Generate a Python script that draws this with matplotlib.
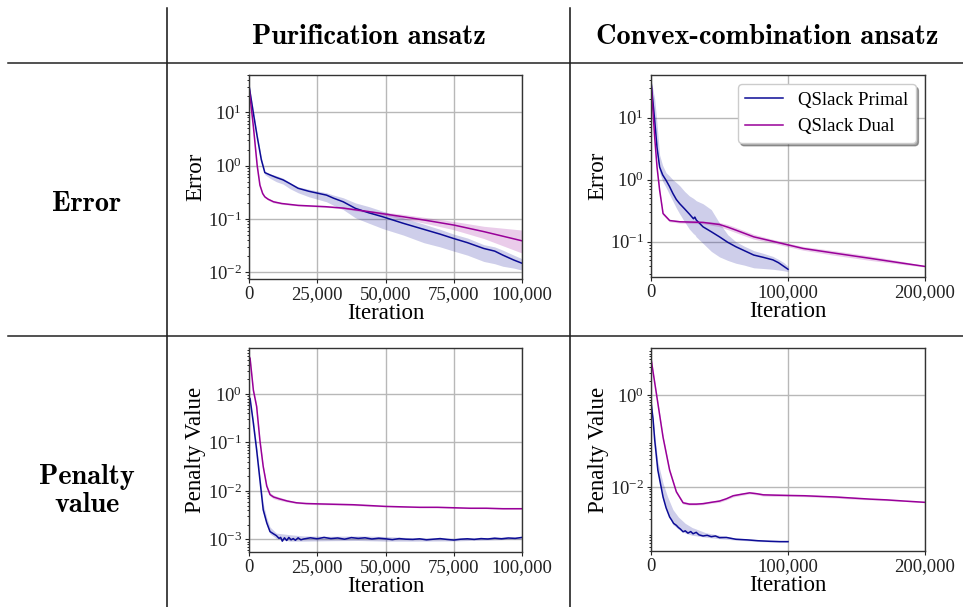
import matplotlib
matplotlib.use("Agg")
import matplotlib.pyplot as plt
from matplotlib.lines import Line2D
from matplotlib.ticker import FuncFormatter
import numpy as np

plt.rcParams['font.family'] = ['Liberation Serif', 'DejaVu Serif']
plt.rcParams['mathtext.fontset'] = 'stix'

PRIMAL_C = '#0c0c96'
DUAL_C = '#990099'

col_titles = ['Purification ansatz', 'Convex-combination ansatz']
row_titles = ['Error', 'Penalty\nvalue']
ylabels = ['Error', 'Penalty Value']
legend_labels = ['QSlack Primal', 'QSlack Dual']

# ---- purification ansatz, error ----
pe_x_primal = [0, 1600, 3000, 4500, 5800, 7700, 10000, 12500, 15000, 18000, 22000, 28400, 31000, 34500, 39000, 44000, 49000, 56500, 64000, 70000, 75000, 80000, 86000, 90000, 93000, 97000, 100000]
pe_primal = [32, 9.6, 3.5, 1.3, 0.74, 0.67, 0.6, 0.54, 0.46, 0.376, 0.33, 0.28, 0.245, 0.21, 0.158, 0.13, 0.11, 0.083, 0.064, 0.052, 0.043, 0.036, 0.028, 0.025, 0.021, 0.017, 0.0148]
pe_primal_lo = [30, 8.5, 3.0, 1.15, 0.68, 0.58, 0.5, 0.45, 0.37, 0.31, 0.26, 0.21, 0.18, 0.15, 0.105, 0.083, 0.066, 0.05, 0.036, 0.03, 0.025, 0.021, 0.016, 0.0145, 0.013, 0.012, 0.011]
pe_primal_hi = [34, 11, 4.0, 1.45, 0.78, 0.70, 0.65, 0.58, 0.48, 0.40, 0.36, 0.31, 0.28, 0.25, 0.20, 0.17, 0.14, 0.105, 0.08, 0.064, 0.052, 0.044, 0.033, 0.03, 0.026, 0.021, 0.018]
pe_x_dual = [0, 1600, 3000, 4000, 5000, 5800, 7000, 9000, 12000, 18000, 28000, 34500, 44000, 56500, 65000, 75000, 86000, 100000]
pe_dual = [30, 5.4, 1.0, 0.43, 0.3, 0.26, 0.235, 0.21, 0.195, 0.18, 0.17, 0.16, 0.137, 0.11, 0.094, 0.077, 0.058, 0.039]
pe_dual_lo = [28, 5.0, 0.9, 0.40, 0.28, 0.25, 0.225, 0.20, 0.188, 0.175, 0.165, 0.155, 0.13, 0.10, 0.082, 0.063, 0.043, 0.023]
pe_dual_hi = [32, 5.8, 1.1, 0.46, 0.32, 0.27, 0.245, 0.22, 0.202, 0.185, 0.175, 0.167, 0.145, 0.122, 0.106, 0.09, 0.073, 0.062]

# ---- convex-combination ansatz, error ----
ce_x_primal = [0, 2700, 4400, 6300, 8500, 11000, 13500, 16000, 18500, 21000, 24500, 28000, 31000, 32000, 33000, 38000, 44000, 50000, 56000, 62000, 68000, 75000, 82000, 89000, 93000, 97000, 100000]
ce_primal = [39, 9, 3.3, 1.6, 1.2, 0.98, 0.78, 0.6, 0.48, 0.41, 0.34, 0.28, 0.235, 0.25, 0.225, 0.174, 0.145, 0.12, 0.098, 0.083, 0.072, 0.061, 0.056, 0.051, 0.046, 0.040, 0.036]
ce_primal_lo = [36, 6, 2.5, 1.3, 0.95, 0.75, 0.58, 0.45, 0.35, 0.28, 0.21, 0.16, 0.135, 0.13, 0.12, 0.094, 0.07, 0.057, 0.05, 0.045, 0.042, 0.038, 0.037, 0.036, 0.035, 0.034, 0.033]
ce_primal_hi = [42, 20, 8, 2.5, 1.7, 1.3, 1.15, 1.0, 0.9, 0.8, 0.65, 0.55, 0.5, 0.48, 0.46, 0.41, 0.33, 0.2, 0.13, 0.1, 0.085, 0.072, 0.065, 0.058, 0.052, 0.046, 0.040]
ce_x_dual = [0, 2700, 4400, 6300, 8800, 13600, 21000, 38000, 50000, 56000, 62000, 75000, 87000, 100000, 111000, 135000, 160000, 184000, 200000]
ce_dual = [39, 4.8, 1.6, 0.68, 0.285, 0.22, 0.21, 0.205, 0.19, 0.172, 0.154, 0.12, 0.104, 0.089, 0.078, 0.065, 0.054, 0.045, 0.040]
ce_dual_lo = [37, 4.5, 1.5, 0.64, 0.27, 0.21, 0.2, 0.195, 0.175, 0.157, 0.14, 0.11, 0.097, 0.083, 0.073, 0.06, 0.05, 0.043, 0.039]
ce_dual_hi = [41, 5.1, 1.7, 0.72, 0.3, 0.23, 0.22, 0.215, 0.205, 0.19, 0.17, 0.132, 0.112, 0.095, 0.084, 0.071, 0.059, 0.048, 0.041]

# ---- purification ansatz, penalty ----
pp_x_primal = [0, 400, 1600, 2800, 4000, 5200, 6500, 7700, 9000, 10000, 11000, 11600, 12200, 13000, 13800, 14600,
               15400, 16200, 17000, 18000, 19000, 20000, 22500, 25000, 27500, 30000, 32500, 35000, 37500, 40000,
               42500, 45000, 47500, 50000, 52500, 55000, 57500, 60000, 62500, 65000, 67500, 70000, 72500, 75000,
               77500, 80000, 82500, 85000, 87500, 90000, 92500, 95000, 97500, 100000]
pp_primal = [0.85, 0.81, 0.25, 0.07, 0.017, 0.0041, 0.0022, 0.00145, 0.0013, 0.0012, 0.00105, 0.0011, 0.00092, 0.00108,
             0.00095, 0.0011, 0.00098, 0.00104, 0.00096, 0.00108, 0.00098, 0.00102, 0.00108, 0.00103, 0.00110, 0.00104,
             0.00107, 0.00101, 0.00109, 0.00105, 0.00108, 0.00102, 0.00106, 0.00103, 0.00099, 0.00104, 0.00101, 0.00100,
             0.00103, 0.00098, 0.00101, 0.00104, 0.00100, 0.00097, 0.00101, 0.00103, 0.00100, 0.00104, 0.00102, 0.00106,
             0.00103, 0.00107, 0.00105, 0.00110]
pp_x_primal_band = [0, 1600, 2800, 4000, 5200, 6500, 7700, 10000, 15000, 20000, 30000, 40000, 50000, 60000, 75000, 100000]
pp_primal_lo = [0.8, 0.22, 0.06, 0.014, 0.0035, 0.0019, 0.0013, 0.00105, 0.00092, 0.00092, 0.00094, 0.00095, 0.00092, 0.00092, 0.00093, 0.00102]
pp_primal_hi = [0.9, 0.3, 0.085, 0.021, 0.0055, 0.0028, 0.0018, 0.00135, 0.00125, 0.00118, 0.00116, 0.00118, 0.00115, 0.00108, 0.00106, 0.00114]
pp_x_dual = [0, 400, 1600, 2800, 4000, 5200, 6500, 7700, 9000, 11000, 14000, 17400, 21000, 26000, 32000, 38000,
             44000, 50000, 56000, 62500, 69000, 75000, 81000, 87000, 93000, 100000]
pp_dual = [6, 5.4, 1.2, 0.55, 0.11, 0.032, 0.0126, 0.0084, 0.0075, 0.0069, 0.0062, 0.0057, 0.0055, 0.0054, 0.0053,
           0.0052, 0.0050, 0.0048, 0.0047, 0.0046, 0.0046, 0.0045, 0.0044, 0.0044, 0.0043, 0.0043]
pp_dual_lo = [5.6, 5.0, 1.1, 0.5, 0.1, 0.029, 0.0115, 0.0078, 0.0069, 0.0064, 0.0059, 0.0055, 0.0053, 0.0052, 0.0051,
              0.0050, 0.0048, 0.0047, 0.0046, 0.0045, 0.0045, 0.0044, 0.0043, 0.0043, 0.0042, 0.0042]
pp_dual_hi = [6.4, 5.8, 1.3, 0.6, 0.12, 0.035, 0.0138, 0.0092, 0.0082, 0.0075, 0.0066, 0.0059, 0.0057, 0.0056, 0.0055,
              0.0054, 0.0052, 0.0049, 0.0048, 0.0047, 0.0047, 0.0046, 0.0045, 0.0045, 0.0044, 0.0044]

# ---- convex-combination ansatz, penalty ----
cp_x_primal = [0, 1500, 2700, 5000, 8800, 11000, 13600, 15000, 16500, 18500, 20000, 21500, 23400, 25000, 27000, 29000,
               30700, 33000, 35000, 38000, 41000, 44000, 47000, 50000, 55000, 62000, 70000, 78000, 87000, 94000, 100000]
cp_primal = [0.72, 0.3, 0.105, 0.023, 0.006, 0.0035, 0.0022, 0.0019, 0.0016, 0.00145, 0.0013, 0.0012, 0.00105, 0.0011,
             0.00098, 0.00106, 0.00095, 0.00102, 0.0009, 0.00085, 0.00088, 0.00082, 0.00085, 0.00078, 0.00079, 0.00072,
             0.0007, 0.00067, 0.00065, 0.00064, 0.00064]
cp_x_primal_band = [0, 2700, 5000, 8800, 12000, 16000, 20000, 25000, 30000, 40000, 50000, 60000, 80000, 100000]
cp_primal_lo = [0.65, 0.09, 0.019, 0.0052, 0.0028, 0.0015, 0.0012, 0.00098, 0.00088, 0.0008, 0.00074, 0.0007, 0.00064, 0.00062]
cp_primal_hi = [0.8, 0.14, 0.035, 0.012, 0.0062, 0.0032, 0.0022, 0.0016, 0.0013, 0.001, 0.00088, 0.00078, 0.0007, 0.00067]
cp_x_dual = [0, 3900, 8800, 13600, 18500, 23400, 28000, 33000, 38000, 44000, 50000, 55000, 60000, 66000, 72000, 77000,
             82000, 90000, 100000, 112000, 123000, 135000, 147000, 160000, 172000, 185000, 200000]
cp_dual = [6.3, 1.09, 0.12, 0.023, 0.0078, 0.0045, 0.0042, 0.0042, 0.0043, 0.0046, 0.0049, 0.0055, 0.0064, 0.0069,
           0.0074, 0.0071, 0.0067, 0.0066, 0.0065, 0.0064, 0.0062, 0.0060, 0.0057, 0.0054, 0.0052, 0.0049, 0.0046]
cp_dual_lo = [6.0, 1.0, 0.11, 0.021, 0.0072, 0.0042, 0.0040, 0.0040, 0.0041, 0.0044, 0.0046, 0.0052, 0.0060, 0.0065,
              0.0070, 0.0067, 0.0063, 0.0062, 0.0062, 0.0061, 0.0059, 0.0057, 0.0054, 0.0052, 0.0050, 0.0048, 0.0045]
cp_dual_hi = [6.6, 1.2, 0.13, 0.025, 0.0084, 0.0048, 0.0045, 0.0045, 0.0046, 0.0049, 0.0052, 0.0058, 0.0068, 0.0073,
              0.0078, 0.0075, 0.0071, 0.0070, 0.0068, 0.0067, 0.0065, 0.0063, 0.0060, 0.0056, 0.0054, 0.0050, 0.0047]

W, H = 963, 607
fig = plt.figure(figsize=(W / 100, H / 100), dpi=100)


def px_axes(left, top, right, bottom):
    return fig.add_axes([left / W, 1 - bottom / H, (right - left) / W, (bottom - top) / H])


def style(ax, xmax, xticks, ylim, yticks, ylabel):
    ax.set_yscale('log')
    ax.set_xlim(0, xmax)
    ax.set_ylim(*ylim)
    ax.set_xticks(xticks)
    ax.set_yticks(yticks)
    ax.xaxis.set_major_formatter(FuncFormatter(lambda v, p: f'{v:,.0f}'))
    ax.grid(True, which='major', color='#b8b8b8', linewidth=1)
    ax.set_axisbelow(True)
    for s in ax.spines.values():
        s.set_color('#333333')
        s.set_linewidth(1)
    ax.tick_params(labelsize=13.5, colors='#222222', length=3, pad=2)
    ax.tick_params(which='minor', length=1.5)
    ax.set_xlabel('Iteration', fontsize=16.5, labelpad=0)
    ax.set_ylabel(ylabel, fontsize=16.5, labelpad=1)


ax1 = px_axes(249, 75, 522, 279)
ax1.fill_between(pe_x_primal, pe_primal_lo, pe_primal_hi, color=PRIMAL_C, alpha=0.2, lw=0)
ax1.fill_between(pe_x_dual, pe_dual_lo, pe_dual_hi, color=DUAL_C, alpha=0.2, lw=0)
ax1.plot(pe_x_primal, pe_primal, color=PRIMAL_C, lw=1.1)
ax1.plot(pe_x_dual, pe_dual, color=DUAL_C, lw=1.1)
style(ax1, 100000, [0, 25000, 50000, 75000, 100000], (0.0075, 50), [10, 1, 0.1, 0.01], ylabels[0])

ax2 = px_axes(651, 75, 925, 277)
ax2.fill_between(ce_x_primal, ce_primal_lo, ce_primal_hi, color=PRIMAL_C, alpha=0.2, lw=0)
ax2.fill_between(ce_x_dual, ce_dual_lo, ce_dual_hi, color=DUAL_C, alpha=0.2, lw=0)
ax2.plot(ce_x_primal, ce_primal, color=PRIMAL_C, lw=1.1, label=legend_labels[0])
ax2.plot(ce_x_dual, ce_dual, color=DUAL_C, lw=1.1, label=legend_labels[1])
style(ax2, 200000, [0, 100000, 200000], (0.027, 49), [10, 1, 0.1], ylabels[0])
leg = ax2.legend(loc='upper right', fontsize=13.5, shadow=True, fancybox=True, framealpha=1,
                 borderpad=0.4, handlelength=2.0, handletextpad=0.8, borderaxespad=0.5)
leg.get_frame().set_edgecolor('#cccccc')

ax3 = px_axes(249, 348, 522, 552)
ax3.fill_between(pp_x_primal_band, pp_primal_lo, pp_primal_hi, color=PRIMAL_C, alpha=0.2, lw=0)
ax3.fill_between(pp_x_dual, pp_dual_lo, pp_dual_hi, color=DUAL_C, alpha=0.2, lw=0)
ax3.plot(pp_x_primal, pp_primal, color=PRIMAL_C, lw=1.1)
ax3.plot(pp_x_dual, pp_dual, color=DUAL_C, lw=1.1)
style(ax3, 100000, [0, 25000, 50000, 75000, 100000], (5.5e-4, 8.9), [1, 0.1, 0.01, 0.001], ylabels[1])

ax4 = px_axes(651, 348, 925, 551)
ax4.fill_between(cp_x_primal_band, cp_primal_lo, cp_primal_hi, color=PRIMAL_C, alpha=0.2, lw=0)
ax4.fill_between(cp_x_dual, cp_dual_lo, cp_dual_hi, color=DUAL_C, alpha=0.2, lw=0)
ax4.plot(cp_x_primal, cp_primal, color=PRIMAL_C, lw=1.1)
ax4.plot(cp_x_dual, cp_dual, color=DUAL_C, lw=1.1)
style(ax4, 200000, [0, 100000, 200000], (4e-4, 10.6), [1, 0.01], ylabels[1])

# table rules
for x in (167, 570):
    fig.add_artist(Line2D([x / W, x / W], [1 - 8 / H, 0], color='#111111', lw=1.1))
for y in (63, 336):
    fig.add_artist(Line2D([8 / W, 1], [1 - y / H, 1 - y / H], color='#222222', lw=1.1))

# bold Computer Modern headers (matplotlib ships cmb10)
head = dict(family=['cmb10', 'DejaVu Serif'], fontsize=20.4, ha='center', va='center')
fig.text(369 / W, 1 - 37 / H, col_titles[0], **head)
fig.text(767 / W, 1 - 37 / H, col_titles[1], **head)
fig.text(87 / W, 1 - 204 / H, row_titles[0], **head)
fig.text(87 / W, 1 - 491 / H, row_titles[1], linespacing=1.15, **head)

fig.savefig('out.png', dpi=100)
